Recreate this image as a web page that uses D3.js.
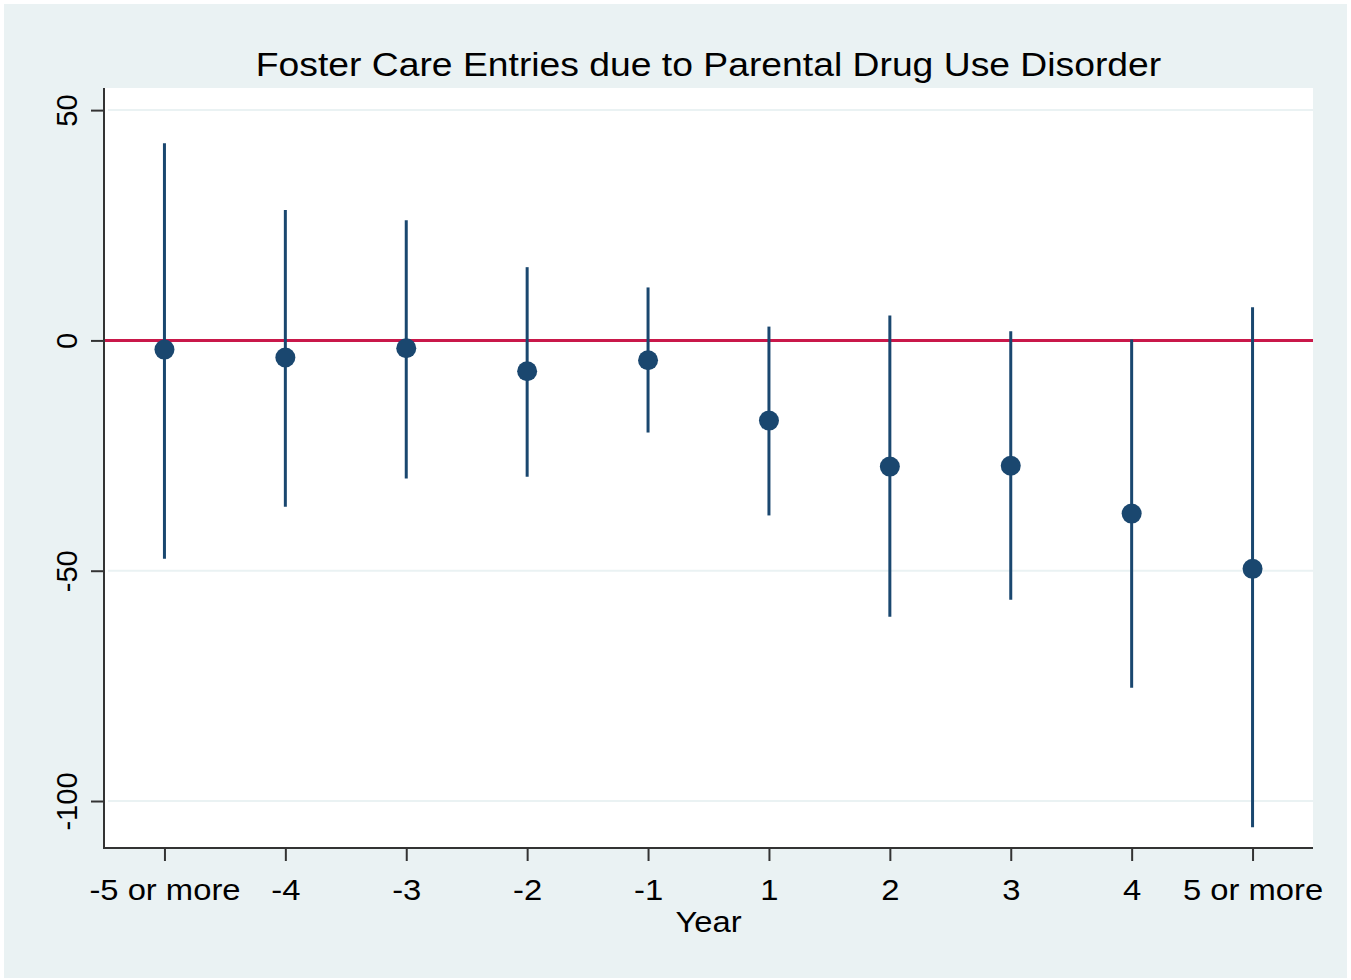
<!DOCTYPE html>
<html lang="en">
<head>
    <meta charset="UTF-8">
    <title>Foster Care Entries due to Parental Drug Use Disorder</title>
    <script src="https://d3js.org/d3.v7.min.js"></script>
    <style>
        body {
            margin: 0;
            background-color: #ffffff;
            font-family: 'Liberation Sans', Arial, sans-serif;
        }
        .tick-label {
            font-size: 29px;
            fill: #000;
        }
        .title {
            font-size: 33px;
            fill: #000;
        }
    </style>
</head>
<body>
    <svg id="chart"></svg>

    <script>
        const years = ["-5 or more", "-4", "-3", "-2", "-1", "1", "2", "3", "4", "5 or more"];
        const estimates = [-2.0, -3.7, -1.7, -6.7, -4.3, -17.4, -27.4, -27.2, -37.6, -49.6];
        const upper = [42.8, 28.3, 26.1, 15.9, 11.5, 3.0, 5.4, 2.0, 0.2, 7.2];
        const lower = [-47.4, -36.1, -30.0, -29.6, -20.0, -38.0, -60.0, -56.3, -75.4, -105.7];
        const yTicks = [50, 0, -50, -100];

        const W = 1351, H = 980;
        const plot = {left: 104, right: 1313, top: 88, bottom: 848};
        // the source image is a bit stretched sideways, so horizontal text gets widened
        const stretch = 1.13;

        const data = years.map((yr, i) => ({year: yr, est: estimates[i], hi: upper[i], lo: lower[i]}));

        const svg = d3.select("#chart")
            .attr("width", W)
            .attr("height", H);

        // outer graph region
        svg.append("rect")
            .attr("x", 4).attr("y", 4)
            .attr("width", W - 8).attr("height", H - 6)
            .attr("fill", "#eaf2f3");

        svg.append("rect")
            .attr("x", plot.left).attr("y", plot.top)
            .attr("width", plot.right - plot.left)
            .attr("height", plot.bottom - plot.top)
            .attr("fill", "#ffffff");

        const x = d3.scalePoint()
            .domain(years)
            .range([plot.left, plot.right])
            .padding(0.5);

        const y = d3.scaleLinear()
            .domain([-110.2, 54.8])
            .range([plot.bottom, plot.top]);

        // gridlines
        svg.append("g")
            .selectAll("line")
            .data(yTicks)
            .enter().append("line")
            .attr("x1", plot.left + 4).attr("x2", plot.right)
            .attr("y1", d => y(d)).attr("y2", d => y(d))
            .attr("stroke", "#eaf2f3")
            .attr("stroke-width", 2);

        // reference line at zero
        svg.append("line")
            .attr("x1", plot.left).attr("x2", plot.right)
            .attr("y1", y(0)).attr("y2", y(0))
            .attr("stroke", "#c9184a")
            .attr("stroke-width", 3);

        // y axis
        const yAxis = svg.append("g")
            .attr("transform", `translate(${plot.left},0)`)
            .call(d3.axisLeft(y).tickValues(yTicks).tickFormat(d => String(d)).tickSize(13).tickSizeOuter(0));
        yAxis.select(".domain")
            .attr("d", `M0,${plot.top}V${plot.bottom + 1}`)
            .attr("stroke", "#333").attr("stroke-width", 2);
        yAxis.selectAll(".tick line").attr("stroke", "#333").attr("stroke-width", 2);
        yAxis.selectAll(".tick text")
            .attr("class", "tick-label")
            .attr("font-family", null)
            .attr("font-size", null)
            .attr("x", 0)
            .attr("transform", "translate(-27,0) rotate(-90)")
            .attr("text-anchor", "middle")
            .attr("dy", 0);

        // x axis
        const xAxis = svg.append("g")
            .attr("transform", `translate(0,${plot.bottom})`)
            .call(d3.axisBottom(x).tickSize(13).tickSizeOuter(0));
        xAxis.select(".domain")
            .attr("d", `M${plot.left - 1},0H${plot.right}`)
            .attr("stroke", "#333").attr("stroke-width", 2);
        xAxis.selectAll(".tick line").attr("stroke", "#333").attr("stroke-width", 2);
        xAxis.selectAll(".tick text")
            .attr("class", "tick-label")
            .attr("font-family", null)
            .attr("font-size", null)
            .attr("y", 52).attr("dy", 0)
            .attr("transform", `scale(${stretch},1)`);

        // confidence intervals
        svg.append("g")
            .selectAll("line")
            .data(data)
            .enter().append("line")
            .attr("x1", d => x(d.year)).attr("x2", d => x(d.year))
            .attr("y1", d => y(d.hi)).attr("y2", d => y(d.lo))
            .attr("stroke", "#1a476f")
            .attr("stroke-width", 3);

        // point estimates
        svg.append("g")
            .selectAll("circle")
            .data(data)
            .enter().append("circle")
            .attr("cx", d => x(d.year))
            .attr("cy", d => y(d.est))
            .attr("r", 10)
            .attr("fill", "#1a476f");

        const cx = (plot.left + plot.right) / 2;

        svg.append("text")
            .attr("class", "title")
            .attr("transform", `translate(${cx},76) scale(${stretch},1)`)
            .attr("text-anchor", "middle")
            .text("Foster Care Entries due to Parental Drug Use Disorder");

        svg.append("text")
            .attr("class", "tick-label")
            .attr("transform", `translate(${cx},932) scale(${stretch},1)`)
            .attr("text-anchor", "middle")
            .text("Year");
    </script>
</body>
</html>
